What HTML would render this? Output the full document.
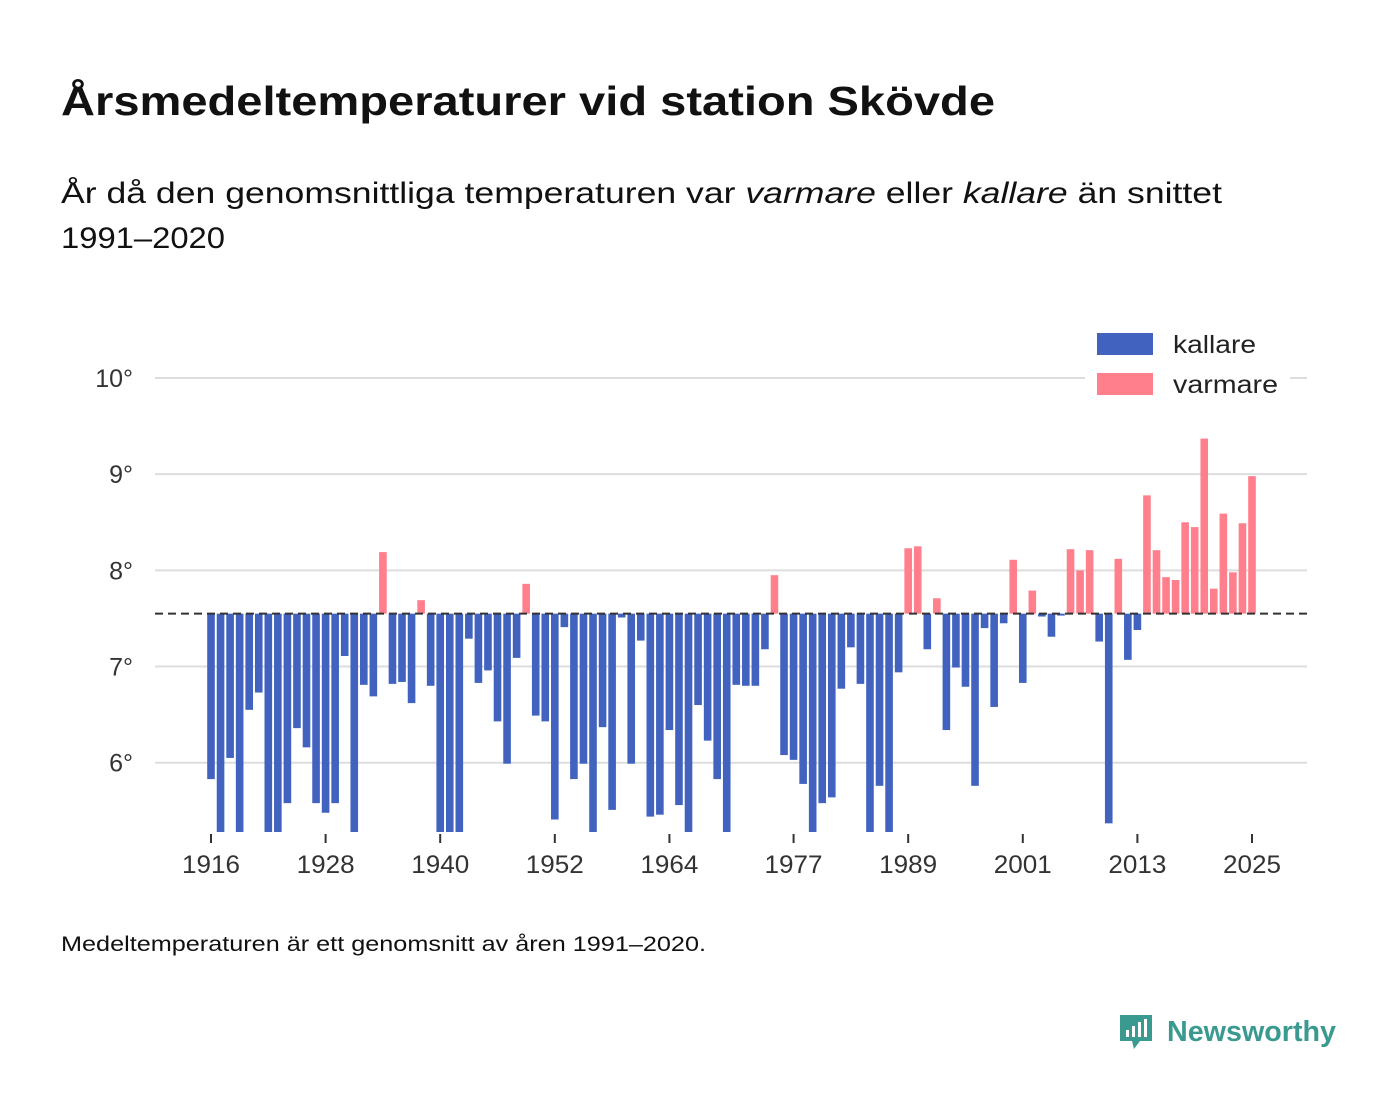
<!DOCTYPE html>
<html><head><meta charset="utf-8">
<style>
html,body{margin:0;padding:0;background:#fff;}
svg{display:block;font-family:"Liberation Sans","DejaVu Sans",sans-serif;}
</style></head>
<body>
<svg id="chart" width="1400" height="1116" viewBox="0 0 1400 1116">
  <text x="61" y="115" font-size="41" font-weight="bold" fill="#111" textLength="934" lengthAdjust="spacingAndGlyphs">Årsmedeltemperaturer vid station Skövde</text>
  <text x="61" y="203" font-size="30" fill="#111" textLength="1161" lengthAdjust="spacingAndGlyphs">År då den genomsnittliga temperaturen var <tspan font-style="italic">varmare</tspan> eller <tspan font-style="italic">kallare</tspan> än snittet</text>
  <text x="61" y="248" font-size="30" fill="#111" textLength="164" lengthAdjust="spacingAndGlyphs">1991–2020</text>
  <g id="grid"></g>
  <g id="yaxis"></g>
  <g id="bars"></g>
  <g id="xaxis"></g>
  <g id="legend">
    <rect x="1085" y="328" width="205" height="80" fill="#fff"></rect>
    <g>
      <rect x="1097" y="333" width="56" height="22" fill="#4163bf"></rect>
      <text x="1173" y="353" font-size="25" fill="#222" textLength="83" lengthAdjust="spacingAndGlyphs">kallare</text>
    </g>
    <g>
      <rect x="1097" y="373" width="56" height="22" fill="#ff7f8c"></rect>
      <text x="1173" y="393" font-size="25" fill="#222" textLength="105" lengthAdjust="spacingAndGlyphs">varmare</text>
    </g>
  </g>
  <text x="61" y="951" font-size="21" fill="#111" textLength="645" lengthAdjust="spacingAndGlyphs">Medeltemperaturen är ett genomsnitt av åren 1991–2020.</text>
  <g>
    <path d="M1120 1015 h32 v26 h-12 l-6 8 l-2 -8 h-12 z" fill="#3a9a8f"></path>
    <rect x="1126" y="1030" width="3" height="7" fill="#fff"></rect>
    <rect x="1132" y="1026" width="3" height="11" fill="#fff"></rect>
    <rect x="1138" y="1022" width="3" height="15" fill="#fff"></rect>
    <rect x="1144" y="1019" width="3" height="18" fill="#fff"></rect>
    <text x="1167" y="1041" font-size="29" font-weight="bold" fill="#3a9a8f" textLength="169" lengthAdjust="spacingAndGlyphs">Newsworthy</text>
  </g>
</svg>
<script>
const years = [];
for (let y = 1916; y <= 2025; y++) years.push(y);
const temps = [
5.83,5.1,6.05,5.1,6.55,6.73,5.1,5.1,5.58,6.36,
6.16,5.58,5.48,5.58,7.11,5.1,6.81,6.69,8.19,6.82,
6.84,6.62,7.69,6.80,5.1,5.1,5.1,7.29,6.83,6.96,
6.43,5.99,7.09,7.86,6.49,6.43,5.41,7.41,5.83,5.99,
5.1,6.37,5.51,7.51,5.99,7.27,5.44,5.46,6.34,5.56,
5.1,6.60,6.23,5.83,5.1,6.81,6.80,6.80,7.18,7.95,
6.08,6.03,5.78,5.1,5.58,5.64,6.77,7.20,6.82,5.1,
5.76,5.1,6.94,8.23,8.25,7.18,7.71,6.34,6.99,6.79,
5.76,7.40,6.58,7.45,8.11,6.83,7.79,7.52,7.31,7.53,
8.22,8.00,8.21,7.26,5.37,8.12,7.07,7.38,8.78,8.21,
7.93,7.90,8.50,8.45,9.37,7.81,8.59,7.98,8.49,8.98];
const yTicks = [6,7,8,9,10];
const xTickYears = [1916,1928,1940,1952,1964,1977,1989,2001,2013,2025];
const baseline = 7.55;
const yMin = 5.28, yMax = 10;

const NS = "http://www.w3.org/2000/svg";
const x0 = 211, x1 = 1252, yTop = 378, yBot = 832;
function xScale(yr){ return x0 + (yr - 1916) * (x1 - x0) / (2025 - 1916); }
function yScale(v){ return yBot - (Math.max(v, yMin) - yMin) * (yBot - yTop) / (yMax - yMin); }
function el(tag, attrs, parent){ const e = document.createElementNS(NS, tag); for (const k in attrs) e.setAttribute(k, attrs[k]); parent.appendChild(e); return e; }

const grid = document.getElementById('grid'), yaxis = document.getElementById('yaxis');
yTicks.forEach(t => {
  const l = el('line', {x1:155, x2:1307, y1:yScale(t), y2:yScale(t), stroke:'#dddddd', 'stroke-width':2}, grid);
  
  
  const tx = el('text', {x:133, y:yScale(t)+9, 'text-anchor':'end', 'font-size':25, fill:'#333'}, yaxis);
  tx.textContent = t + '°';
  
  
});

const bars = document.getElementById('bars');
const bw = 7.6;
years.forEach((yr, i) => {
  const v = temps[i];
  const yb = yScale(baseline), yv = yScale(v);
  const r = el('rect', {x: xScale(yr) - bw/2, y: Math.min(yb, yv), width: bw, height: Math.abs(yv - yb), fill: v >= baseline ? '#ff7f8c' : '#4163bf'}, bars);
  
  
});
const bl = el('line', {x1:155, x2:1307, y1:yScale(baseline), y2:yScale(baseline), stroke:'#333', 'stroke-width':2, 'stroke-dasharray':'8,5'}, bars);



const xaxis = document.getElementById('xaxis');
xTickYears.forEach(yr => {
  const tk = el('line', {x1:xScale(yr), x2:xScale(yr), y1:834, y2:843, stroke:'#333', 'stroke-width':2}, xaxis);
  
  
  const tx = el('text', {x:xScale(yr), y:873, 'text-anchor':'middle', 'font-size':25, fill:'#333', textLength:58, lengthAdjust:'spacingAndGlyphs'}, xaxis);
  tx.textContent = yr;
  
  
});
</script>
</body></html>
